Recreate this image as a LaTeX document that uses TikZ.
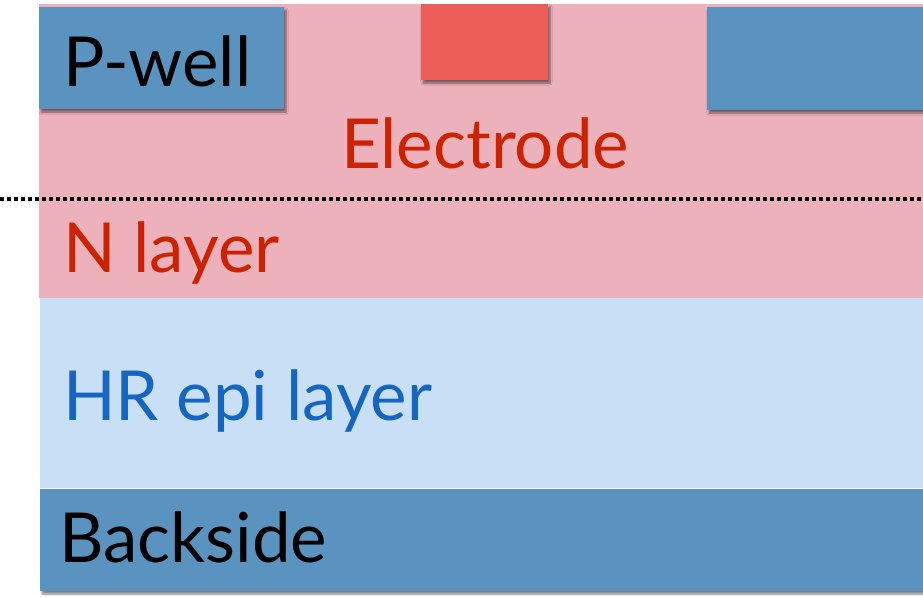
\documentclass[tikz,border=0pt]{standalone}
\usepackage{fontspec}
\setmainfont{Lato}
\usetikzlibrary{shadows.blur}
\definecolor{pinkbg}{HTML}{EDB1BB}
\definecolor{wellblue}{HTML}{5B93C0}
\definecolor{epiblue}{HTML}{C9DFF5}
\definecolor{elecred}{HTML}{EC5E57}
\definecolor{redtxt}{HTML}{CC2200}
\definecolor{bluetxt}{HTML}{1466C0}
\tikzset{
  layer/.style={draw=none},
  blk/.style={draw=none, blur shadow={shadow xshift=2pt, shadow yshift=-3pt, shadow blur steps=6, shadow opacity=50}},
  lbl/.style={font=\fontsize{69}{69}\selectfont, inner sep=0pt, anchor=base west}
}
\begin{document}
\begin{tikzpicture}[x=1pt,y=-1pt]
\useasboundingbox (0,0) rectangle (923,597);
\fill[pinkbg] (39,4) rectangle (923,298);
\fill[epiblue] (40,298) rectangle (923,488);
\path[blk, fill=wellblue] (40,489) rectangle (923,591);
\path[blk, fill=wellblue] (39,7) rectangle (284,109);
\path[blk, fill=elecred] (421,4) rectangle (548,80);
\path[blk, fill=wellblue] (707,7) rectangle (923,110);
\draw[line width=4pt, dash pattern=on 4pt off 3pt] (0,199) -- (923,199);
\node[lbl] (pwell) at (63,86) {P-well};
\node[lbl, text=redtxt, anchor=base] (elec) at (485,168) {Electrode};
\node[lbl, text=redtxt] (nlayer) at (63,272) {N layer};
\node[lbl, text=bluetxt] (epi) at (63,420) {HR epi layer};
\node[lbl] (back) at (59,562) {Backside};
\end{tikzpicture}
\end{document}
